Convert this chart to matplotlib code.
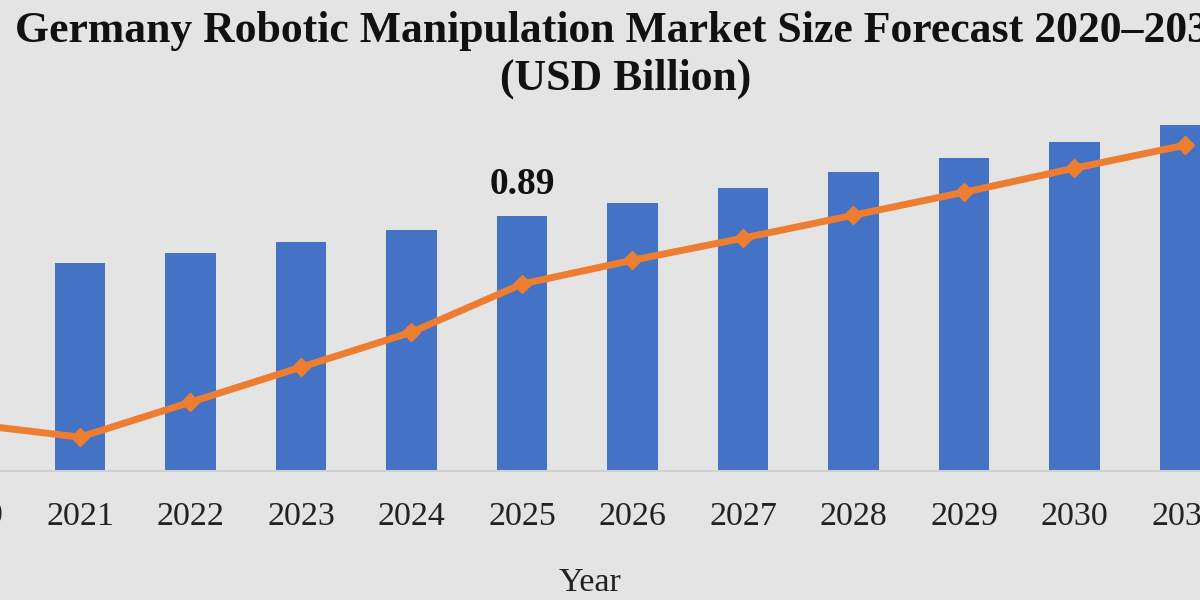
import numpy as np
import matplotlib.pyplot as plt

years = [2020, 2021, 2022, 2023, 2024, 2025, 2026, 2027, 2028, 2029, 2030, 2031]
market_size = [0.70, 0.725, 0.76, 0.80, 0.84, 0.89, 0.934, 0.986, 1.042, 1.09, 1.146, 1.206]
trend = [0.164, 0.118, 0.240, 0.362, 0.484, 0.652, 0.735, 0.812, 0.892, 0.972, 1.056, 1.136]
tick_labels = [str(y) for y in years]

bg = '#e4e4e4'
plt.rcParams['font.family'] = ['Liberation Serif', 'DejaVu Serif']

fig = plt.figure(figsize=(12, 6), dpi=100, facecolor=bg)
ax = fig.add_axes([0, 0.215, 1, 0.618])
ax.set_facecolor(bg)

x = np.array(years)
ax.bar(x, market_size, width=0.46, color='#4472C4', zorder=2)
ax.annotate('0.89', (2025, market_size[5]), xytext=(0, 10), textcoords='offset points',
            ha='center', va='bottom', fontsize=27, fontweight='bold', color='#111111')

ax2 = ax.twinx()
ax2.plot(x, trend, color='#ED7D31', lw=5, marker='D', ms=9, zorder=3)
ax2.set_ylim(0, 1.293)
ax2.axis('off')

ax.set_xticks(x)
ax.set_xticklabels(tick_labels, fontsize=24.5, color='#222222')
# set limits after the ticks, set_xticks widens the view otherwise
for a in (ax, ax2):
    a.set_xlim(2020.276, 2031.136)
ax.set_ylim(0, 1.293)
ax.tick_params(axis='x', length=0, pad=22)
ax.set_yticks([])
for s in ['top', 'right', 'left']:
    ax.spines[s].set_visible(False)
ax.spines['bottom'].set_color('#cfcfcf')
ax.spines['bottom'].set_linewidth(1.5)
ax.set_xlabel('Year', fontsize=24.5, color='#222222')
ax.xaxis.set_label_coords(590 / 1200, -0.26)

# first year label sits mostly past the left edge, tick labels outside xlim are dropped
ax.text(years[0], -0.12, tick_labels[0], transform=ax.get_xaxis_transform(),
        ha='center', va='center', fontsize=24.5, color='#222222', clip_on=False)

fig.text(0.519, 0.948, 'Germany Robotic Manipulation Market Size Forecast 2020\u20132031',
         ha='center', va='center', fontsize=31.5, fontweight='bold', color='#111111')
fig.text(0.521, 0.868, '(USD Billion)', ha='center', va='center',
         fontsize=31.5, fontweight='bold', color='#111111')

fig.savefig('out.png', dpi=100, facecolor=bg)
